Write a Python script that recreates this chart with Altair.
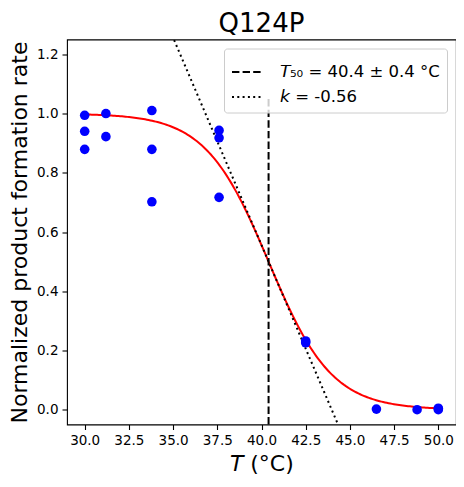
import altair as alt
import numpy as np
import pandas as pd

# measured data
temps = [30.0, 30.0, 30.0, 31.2, 31.2, 33.8, 33.8, 33.8, 37.6, 37.6, 37.6,
         42.5, 42.5, 46.5, 48.8, 50.0, 50.0]
rates = [0.994, 0.940, 0.879, 1.000, 0.922, 1.010, 0.879, 0.702, 0.943, 0.918, 0.717,
         0.232, 0.226, 0.002, 0.000, 0.000, 0.005]

# fit parameters shown in the legend
T50 = 40.4
T50_err = 0.4
k = -0.56

x_ticks = [30.0, 32.5, 35.0, 37.5, 40.0, 42.5, 45.0, 47.5, 50.0]
y_ticks = [0.0, 0.2, 0.4, 0.6, 0.8, 1.0, 1.2]

lab_t50 = "\U0001D61B\u2085\u2080 = %.1f \u00b1 %.1f \u00b0C" % (T50, T50_err)
lab_k = "\U0001D62C = %.2f" % k

FONT = "DejaVu Sans"

pts = pd.DataFrame({"T": temps, "rate": rates})

Tc = np.linspace(30.0, 50.0, 200)
curve = pd.DataFrame({"T": Tc, "rate": 1.0 / (1.0 + np.exp(-k * (Tc - T50)))})

Tt = np.array([34.0, 45.0])
tang = pd.DataFrame({"T": Tt, "rate": 0.5 + (k / 4.0) * (Tt - T50), "s": lab_k})

vline = pd.DataFrame({"T": [T50], "y1": [-0.05], "y2": [1.05], "s": [lab_t50]})

xs = alt.Scale(domain=[29, 51], nice=False, zero=False)
ys = alt.Scale(domain=[-0.05, 1.25], nice=False, zero=False)

xax = alt.Axis(values=x_ticks, format=".1f", title="\U0001D61B (\u00b0C)")
yax = alt.Axis(values=y_ticks, format=".1f", title="Normalized product formation rate")

dash_scale = alt.Scale(domain=[lab_t50, lab_k], range=[[7.4, 3.2], [2.0, 3.3]])
dash_legend = alt.Legend(title=None)

points = alt.Chart(pts).mark_point(filled=True, color="#0000ff", size=92, opacity=1).encode(
    x=alt.X("T:Q", scale=xs, axis=xax),
    y=alt.Y("rate:Q", scale=ys, axis=yax),
)

red = alt.Chart(curve).mark_line(color="#ff0000", strokeWidth=2).encode(
    x=alt.X("T:Q", scale=xs), y=alt.Y("rate:Q", scale=ys)
)

rule = alt.Chart(vline).mark_rule(color="black", strokeWidth=2).encode(
    x=alt.X("T:Q", scale=xs),
    y=alt.Y("y1:Q", scale=ys),
    y2="y2:Q",
    strokeDash=alt.StrokeDash("s:N", scale=dash_scale, legend=dash_legend),
)

tline = alt.Chart(tang).mark_line(color="black", strokeWidth=2, clip=True).encode(
    x=alt.X("T:Q", scale=xs),
    y=alt.Y("rate:Q", scale=ys),
    strokeDash=alt.StrokeDash("s:N", scale=dash_scale, legend=dash_legend),
)

chart = alt.layer(red, tline, rule, points).properties(
    width=389,
    height=385,
    autosize="none",
    padding={"left": 59, "top": 31.5, "right": 0, "bottom": 55},
    title=alt.TitleParams("Q124P", fontSize=26, font=FONT, fontWeight="normal",
                          color="black", offset=3, anchor="middle"),
).configure_view(
    stroke="black", strokeWidth=1.1
).configure_axis(
    domain=False, grid=False, labelFont=FONT, titleFont=FONT, labelFontSize=13.5,
    titleFontSize=22, titleFontWeight="normal", labelColor="black", titleColor="black",
    tickColor="black", tickSize=5, tickWidth=1.1, labelPadding=4,
).configure_axisX(titlePadding=6).configure_axisY(titlePadding=5).configure_legend(
    orient="top-right", offset=9, padding=7, strokeColor="#cccccc", fillColor="rgba(255,255,255,0.8)",
    cornerRadius=3, symbolType="stroke", symbolSize=961, symbolStrokeWidth=2,
    symbolStrokeColor="black", labelFont=FONT, labelFontSize=16.5, labelColor="black",
    labelOffset=16, rowPadding=-4, labelLimit=400,
)

chart.save("out.html", embed_options={"renderer": "svg", "actions": False})
